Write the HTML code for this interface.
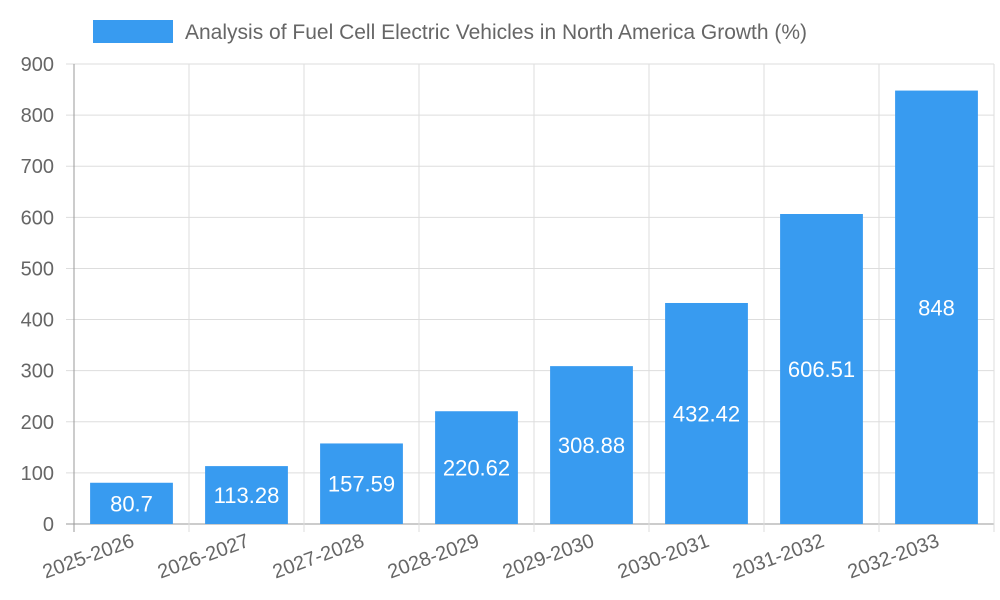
<!DOCTYPE html>
<html><head><meta charset="utf-8"><style>
html,body{margin:0;padding:0;background:#fff;}
svg{display:block;font-family:"Liberation Sans",sans-serif;}
</style></head><body>
<svg id="chart" width="1000" height="600">
<g id="grid"></g>
<g id="bars"></g>
<g id="axes"></g>
<g>
<rect x="93" y="20" width="80" height="23" fill="#389bf0"/>
<text x="185" y="39" font-size="21" fill="#666">Analysis of Fuel Cell Electric Vehicles in North America Growth (%)</text>
</g>
</svg>
<script>
const categories=["2025-2026","2026-2027","2027-2028","2028-2029","2029-2030","2030-2031","2031-2032","2032-2033"];
const values=[80.7,113.28,157.59,220.62,308.88,432.42,606.51,848];
const yTicks=[0,100,200,300,400,500,600,700,800,900];
const NS="http://www.w3.org/2000/svg";
const L=74,R=994,T=64,B=524,yMax=900;
const bw=(R-L)/categories.length;
const y=v=>B-(v/yMax)*(B-T);
const x=i=>L+i*bw;
function mk(tag,attrs,parent,txt){const e=document.createElementNS(NS,tag);for(const k in attrs)e.setAttribute(k,attrs[k]);if(txt!==undefined)e.textContent=txt;parent.appendChild(e);return e;}
const grid=document.getElementById('grid'),bars=document.getElementById('bars'),axes=document.getElementById('axes');
yTicks.forEach(t=>{
 const g=mk('line',{x1:L-8,x2:R,y1:y(t),y2:y(t),stroke:t===0?'#999':'#ddd','stroke-width':1},grid);
 
 
 const lb=mk('text',{x:L-20,y:y(t)+7,'text-anchor':'end','font-size':20,fill:'#666'},axes,String(t));
 
 
});
for(let i=0;i<=categories.length;i++){
 const g=mk('line',{x1:x(i),x2:x(i),y1:T,y2:B+8,stroke:i===0?'#999':'#ddd','stroke-width':1},grid);
 
 
}
categories.forEach((c,i)=>{
 const cx=x(i)+bw/2,w=bw*0.72;
 const r=mk('rect',{x:cx-w/2,y:y(values[i]),width:w,height:B-y(values[i]),fill:'#389bf0'},bars);
 
 
 const v=mk('text',{x:cx,y:(y(values[i])+B)/2+8,'text-anchor':'middle','font-size':22,fill:'#fff'},bars,String(values[i]));
 
 
 const t=mk('text',{x:cx+4,y:B+22,'text-anchor':'end','font-size':20,fill:'#666',transform:`rotate(-20 ${cx+4} ${B+22})`},axes,c);
 
 
});
</script>
</body></html>
